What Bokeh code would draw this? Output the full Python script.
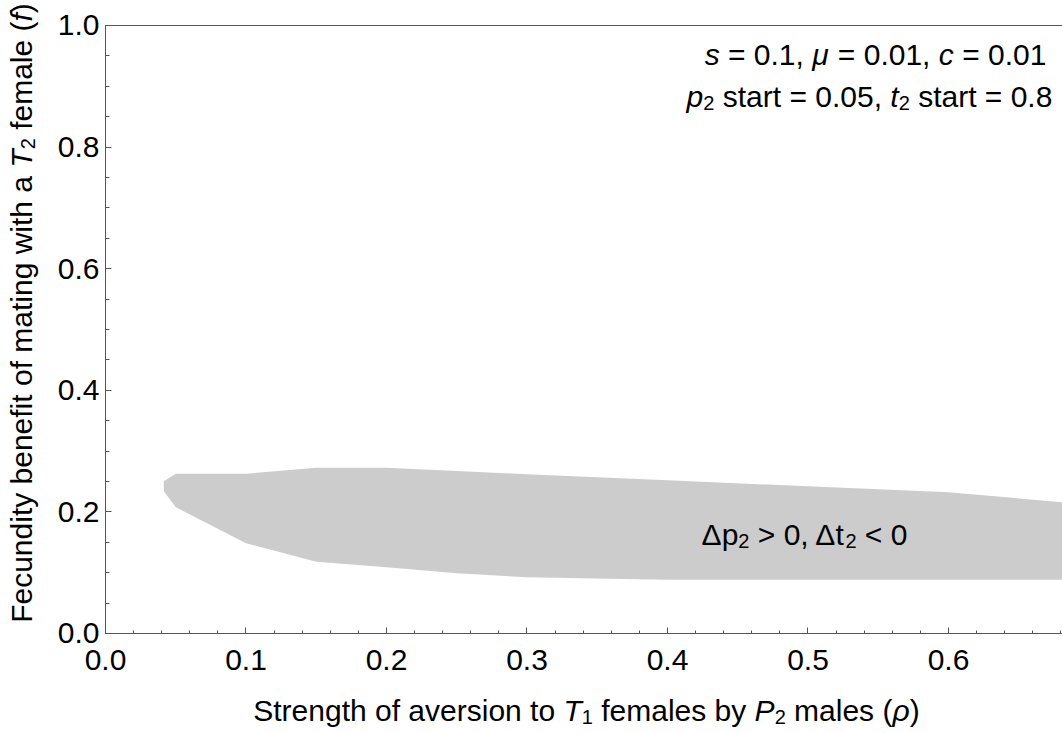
import math
from bokeh.plotting import figure
from bokeh.models import (Range1d, LinearAxis, SingleIntervalTicker, FixedTicker,
                          PrintfTickFormatter, Label)
from bokeh.embed import file_html
from bokeh.resources import INLINE

# ---------------- data ----------------
rho_upper = [0.0415, 0.05, 0.10, 0.15, 0.20, 0.30, 0.40, 0.50, 0.60, 0.70]
f_upper = [0.2505, 0.2627, 0.2627, 0.2725, 0.2725, 0.262, 0.252, 0.242, 0.2324, 0.212]
rho_lower = [0.0415, 0.05, 0.10, 0.15, 0.20, 0.25, 0.30, 0.35, 0.40, 0.50, 0.60, 0.70]
f_lower = [0.234, 0.2077, 0.1485, 0.118, 0.109, 0.099, 0.0926, 0.0905, 0.0885, 0.0885, 0.0885, 0.0885]

x_label_segs = [("Strength of aversion to ", "n"), ("T", "i"), ("1", "s"),
                (" females by ", "n"), ("P", "i"), ("2", "s"), (" males (", "n"),
                ("\u03c1", "i"), (")", "n")]
y_label_segs = [("Fecundity benefit of mating with a ", "n"), ("T", "i"), ("2", "s"),
                (" female (", "n"), ("f", "i"), (")", "n")]
param_line1 = [("s", "i"), (" = 0.1, ", "n"), ("\u03bc", "i"), (" = 0.01, ", "n"),
               ("c", "i"), (" = 0.01", "n")]
param_line2 = [("p", "i"), ("2", "s"), (" start = 0.05, ", "n"), ("t", "i"), ("2", "s"),
               (" start = 0.8", "n")]
region_label = [("\u0394p", "n"), ("2", "s"), (" > 0, \u0394t", "n"), ("2", "s"), (" < 0", "n")]

# ---------------- styling ----------------
FONT = "Liberation Sans"
FS = 30
SUB = 20
SUB_DROP = 6
BASE_FIX = 12          # renderer places 'alphabetic' text this much lower
AXIS_COL = "#555555"
FILL_COL = "#cccccc"
W_PX, H_PX = 1062, 733

# the frame covers the whole canvas; axes are pinned at data 0 / 1
p = figure(width=W_PX, height=H_PX,
           x_range=Range1d(-0.074733, 0.681139), y_range=Range1d(-0.164474, 1.041118),
           output_backend="svg", toolbar_location=None,
           x_axis_location=None, y_axis_location=None,
           min_border=0, background_fill_color="white", border_fill_color="white")
p.outline_line_color = None
p.grid.visible = False

p.patch(rho_upper + rho_lower[::-1], f_upper + f_lower[::-1],
        fill_color=FILL_COL, line_color=None)

xax = LinearAxis(fixed_location=0, bounds=(0, 1),
                 ticker=SingleIntervalTicker(interval=0.1, num_minor_ticks=5))
yax = LinearAxis(fixed_location=0, bounds=(0, 1),
                 ticker=SingleIntervalTicker(interval=0.2, num_minor_ticks=4))
for ax in (xax, yax):
    ax.axis_line_color = AXIS_COL
    ax.major_tick_line_color = AXIS_COL
    ax.minor_tick_line_color = AXIS_COL
    ax.major_tick_out = 0
    ax.minor_tick_out = 0
    ax.major_label_text_font = FONT
    ax.major_label_text_font_size = f"{FS}px"
    ax.major_label_text_color = "black"
    ax.formatter = PrintfTickFormatter(format="%.1f")
xax.major_tick_in = 6
xax.minor_tick_in = 3
yax.major_tick_in = 6
yax.minor_tick_in = 4
xax.major_label_standoff = 17
yax.major_label_standoff = 6
p.add_layout(xax, "below")
p.add_layout(yax, "left")

top = LinearAxis(fixed_location=1.0, bounds=(0, 1), ticker=FixedTicker(ticks=[]),
                 axis_line_color=AXIS_COL, major_tick_line_color=None,
                 minor_tick_line_color=None, major_label_text_font_size="0px")
p.add_layout(top, "above")

# ---------------- rich text helper ----------------
W = {' ': 278, 'S': 667, 't': 278, 'r': 333, 'e': 556, 'n': 556, 'g': 556, 'h': 556,
     'o': 556, 'f': 278, 'a': 556, 'v': 500, 'i': 222, 's': 500, 'T': 611, 'm': 833,
     'l': 222, 'b': 556, 'y': 500, 'P': 667, '(': 333, ')': 333, '\u03c1': 577,
     'F': 611, 'c': 500, 'u': 556, 'd': 556, 'w': 722, 'p': 556, '\u0394': 668,
     '>': 584, '<': 584, '=': 584, ',': 278, '.': 278, '\u03bc': 577}


def tw(s, size):
    return sum(W.get(c, 556) for c in s) * size / 1000.0


def rich(segs, along, base, rotated=False):
    """along/base given in page pixels from the top-left corner."""
    sizes = [SUB if k == "s" else FS for _, k in segs]
    total = sum(tw(t, sz) for (t, _), sz in zip(segs, sizes))
    if rotated:
        pos = (H_PX - along) - total / 2.0     # runs upward
    else:
        pos = along - total / 2.0
    for (t, k), sz in zip(segs, sizes):
        lead = len(t) - len(t.lstrip(" "))
        body = t.strip(" ")
        start = pos + tw(" " * lead, sz)
        drop = (SUB_DROP if k == "s" else 0) - BASE_FIX
        if body:
            if rotated:
                x, y, ang = base + drop, start, math.pi / 2
            else:
                x, y, ang = start, (H_PX - base) - drop, 0
            p.add_layout(Label(x=x, y=y, x_units="screen", y_units="screen", text=body,
                               angle=ang, text_font=FONT, text_font_size=f"{sz}px",
                               text_font_style="italic" if k == "i" else "normal",
                               text_align="left", text_baseline="alphabetic",
                               text_color="black"))
        pos += tw(t, sz)


rich(x_label_segs, 586, 722)
rich(y_label_segs, 312.5, 33, rotated=True)
rich(param_line1, 875, 66)
rich(param_line2, 869, 108)
rich(region_label, 804, 546)

open("out.html", "w").write(file_html(p, INLINE))
